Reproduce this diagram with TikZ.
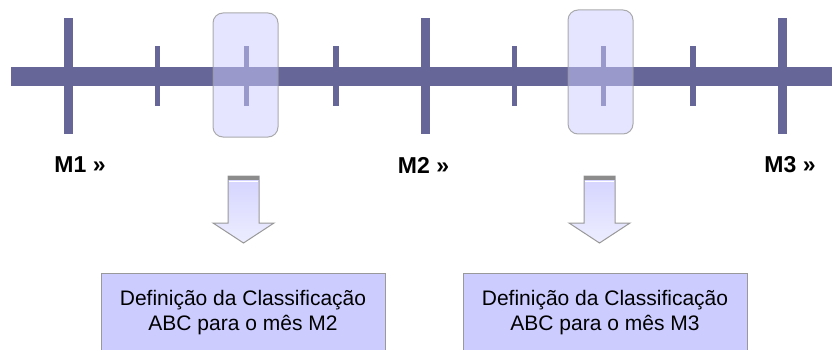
\documentclass[tikz,border=0pt]{standalone}
\usepackage{fontspec}
\setmainfont{Liberation Sans}
\definecolor{barcol}{HTML}{666699}
\definecolor{lilac}{HTML}{CCCCFF}
\definecolor{edgegray}{HTML}{999999}
\definecolor{bandgray}{HTML}{8C8C8C}
\tikzset{
  marklabel/.style={font=\fontsize{23}{26}\selectfont\bfseries, text=black},
  window/.style={draw=edgegray, fill=lilac, fill opacity=0.5, draw opacity=0.8,
    rounded corners=10pt, minimum width=65pt, minimum height=124pt, line width=1pt},
  defbox/.style={draw=edgegray, fill=lilac, line width=0.8pt, minimum width=284pt,
    minimum height=79pt, align=center, font=\fontsize{21}{25}\selectfont, anchor=north},
}
\begin{document}
\begin{tikzpicture}[x=1pt,y=-1pt]
  \useasboundingbox[fill=white] (0,0) rectangle (832,350);
  \clip (0,0) rectangle (832,350);

  % time line
  \fill[barcol] (11,67) rectangle (832,86);
  \foreach \x in {68,425,782}
    \fill[barcol] (\x-4.5,18) rectangle (\x+4.5,134);
  \foreach \x in {157.25,246.5,335.75,514.25,603.5,692.75}
    \fill[barcol] (\x-2.75,46) rectangle (\x+2.75,106);

  \node[window] (win2) at (245.5,75) {};
  \node[window] (win3) at (600.5,72) {};

  \node[marklabel] (m1) at (80,165) {M1 »};
  \node[marklabel] (m2) at (423.5,165) {M2 »};
  \node[marklabel] (m3) at (790,165) {M3 »};

  % block arrows
  \foreach \cx in {243.5,599.5} {
    \begin{scope}[xshift=\cx pt]
      \draw[edgegray, line width=1pt, top color=lilac!85, bottom color=lilac!35]
        (-15.5,176) -- (15.5,176) -- (15.5,223) -- (30.5,223) -- (0,243)
        -- (-30.5,223) -- (-15.5,223) -- cycle;
      \fill[bandgray] (-15.5,176) rectangle (15.5,179.5);
      \draw[white, line width=0.8pt] (-14.5,181) -- (14.5,181);
    \end{scope}
  }

  \node[defbox] (def2) at (243,273) {Definição da Classificação\\ABC para o mês M2};
  \node[defbox] (def3) at (605,273) {Definição da Classificação\\ABC para o mês M3};
\end{tikzpicture}
\end{document}
